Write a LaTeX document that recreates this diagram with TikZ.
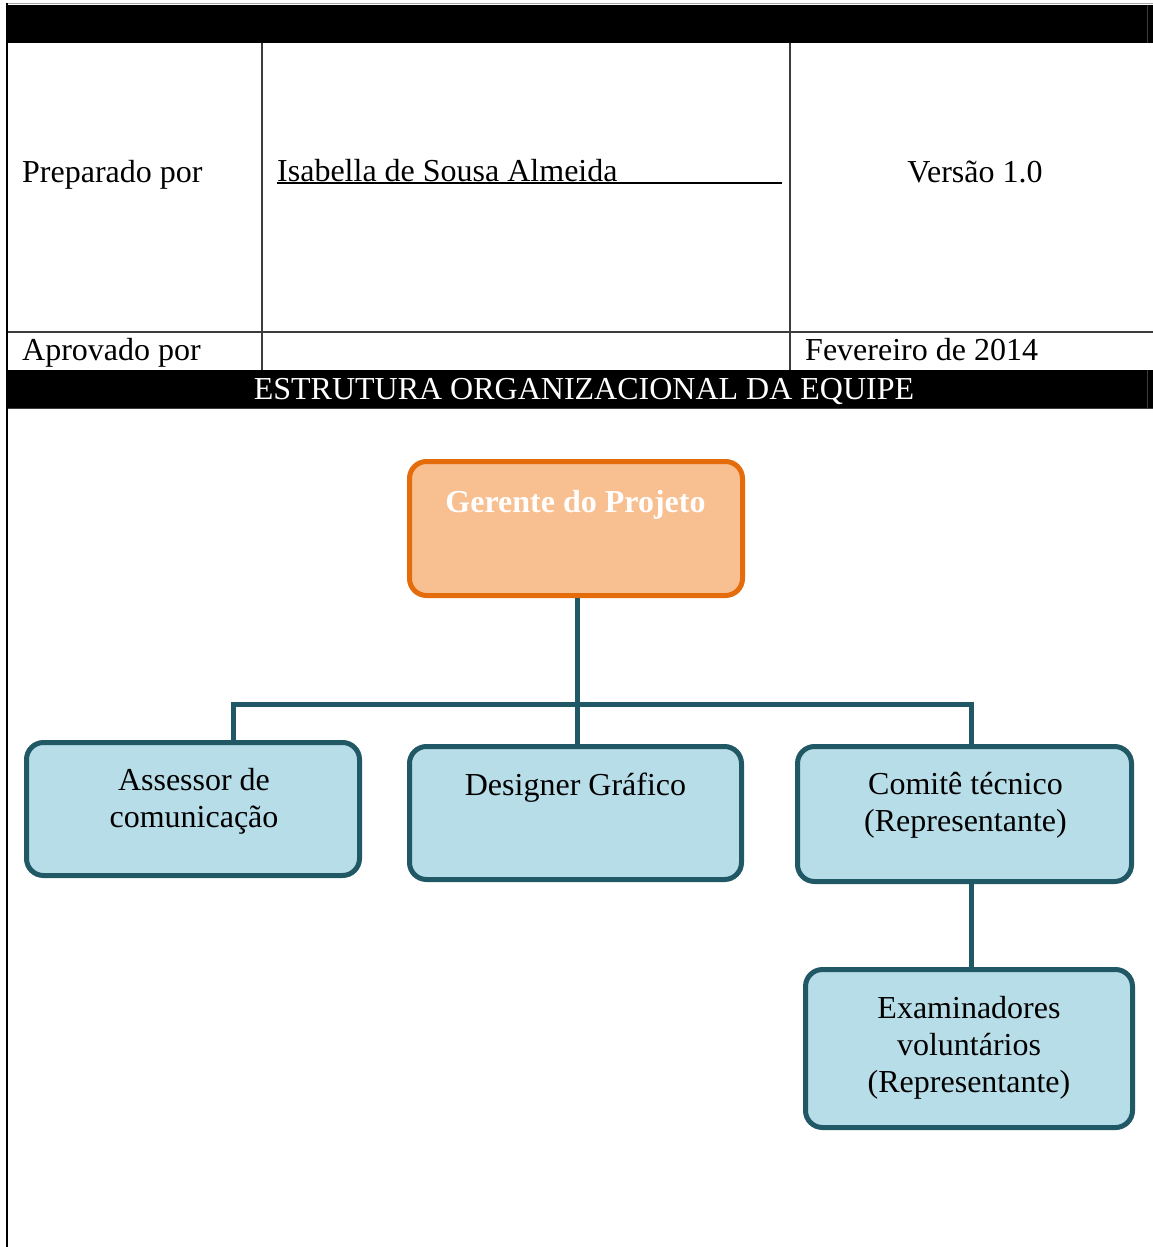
\documentclass[tikz,border=0pt]{standalone}
\usepackage{fontspec}
\setmainfont{Liberation Serif}
% centred lines stacked in a \vtop, so the baseline is that of the first line
\newcommand\stacked[1]{\vtop{\halign{\hfil##\hfil\cr#1\crcr}}}
\definecolor{teal}{RGB}{33,88,102}
\definecolor{paleblue}{RGB}{183,221,232}
\definecolor{orangeline}{RGB}{228,108,10}
\definecolor{orangefill}{RGB}{248,191,145}
\definecolor{rule}{RGB}{60,60,60}
\tikzset{
  txt/.style={inner sep=0pt, font=\fontsize{32}{37}\selectfont},
  orgbox/.style={draw=teal, fill=paleblue, line width=5pt, rounded corners=17pt,
    inner sep=0pt},
  headbox/.style={draw=orangeline, fill=orangefill, line width=5pt,
    rounded corners=17pt, inner sep=0pt},
  link/.style={draw=teal, line width=5pt},
  gridline/.style={draw=rule, line width=1.5pt},
}
\begin{document}
\begin{tikzpicture}[x=1pt,y=-1pt]
\useasboundingbox (0,0) rectangle (1153,1247);
\fill[white] (0,0) rectangle (1153,1247);

% ---- header table ----
\draw[gray!70, line width=1pt] (7,3.5) -- (1153,3.5);
\fill[black] (7,5) rectangle (1153,43);
\draw[gridline] (7,332) -- (1153,332);
\draw[gridline] (262,43) -- (262,370);
\draw[gridline] (790,43) -- (790,370);
\fill[black] (7,370) rectangle (1153,408);
\draw[rule, line width=1pt] (1147,5) -- (1147,43);
\draw[rule, line width=1pt] (1147,370) -- (1147,408);
\draw[rule, line width=1pt] (7,408.5) -- (1153,408.5);
\draw[black, line width=2pt] (7,3) -- (7,1247);

\node[txt, anchor=base west] (prep) at (22,182) {Preparado por};
\node[txt, anchor=base west] (isa) at (277,181) {Isabella de Sousa Almeida};
\draw[black, line width=2pt] (277,182.5) -- (782,182.5);
\node[txt, anchor=base] (ver) at (975,182) {Versão 1.0};
\node[txt, anchor=base west] (apr) at (22,360) {Aprovado por};
\node[txt, anchor=base west] (fev) at (805,360) {Fevereiro de 2014};
\node[txt, anchor=base, text=white] (title) at (584,399)
  {ESTRUTURA ORGANIZACIONAL DA EQUIPE};

% ---- organisation chart ----
\coordinate (bus) at (577.5,704);
\coordinate (busL) at (233,704);
\coordinate (busR) at (971,704);

\node[headbox, minimum width=333, minimum height=134] (ger) at (576,528.5) {};
\node[orgbox, minimum width=333, minimum height=133] (ass) at (193,809) {};
\node[orgbox, minimum width=332, minimum height=133] (des) at (575.5,813) {};
\node[orgbox, minimum width=334, minimum height=135] (com) at (964.5,814) {};
\node[orgbox, minimum width=327, minimum height=158] (exa) at (969,1048.5) {};

\draw[link] (ger.south -| bus) -- (bus);
\draw[link] (busL |- ass.north) -- (busL) -- (busR) -- (busR |- com.north);
\draw[link] (bus) -- (bus |- des.north);
\draw[link] (busR |- com.south) -- (busR |- exa.north);

\node[txt, anchor=base, text=white, font=\fontsize{32}{37}\selectfont\bfseries]
  (gerT) at (575.5,512) {Gerente do Projeto};
\node[txt, anchor=base] (assT) at (194,790) {\stacked{Assessor de\cr comunicação}};
\node[txt, anchor=base] (desT) at (575.5,795) {Designer Gráfico};
\node[txt, anchor=base] (comT) at (965.5,794) {\stacked{Comitê técnico\cr (Representante)}};
\node[txt, anchor=base] (exaT) at (969,1018)
  {\stacked{Examinadores\cr voluntários\cr (Representante)}};
\end{tikzpicture}
\end{document}
